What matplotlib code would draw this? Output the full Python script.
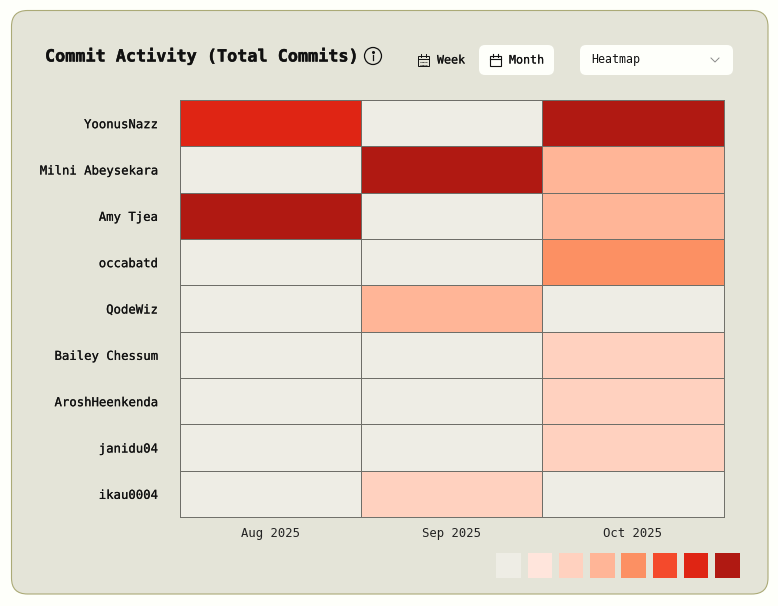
import numpy as np
import matplotlib
matplotlib.use('Agg')
import matplotlib.pyplot as plt
import matplotlib.patheffects as pe
from matplotlib.colors import ListedColormap, BoundaryNorm
from matplotlib.patches import FancyBboxPatch, Rectangle, Circle

plt.rcParams['font.family'] = ['DejaVu Sans Mono']

authors = ["YoonusNazz", "Milni Abeysekara", "Amy Tjea", "occabatd", "QodeWiz",
           "Bailey Chessum", "AroshHeenkenda", "janidu04", "ikau0004"]
months = ["Aug 2025", "Sep 2025", "Oct 2025"]

# colour level of each cell
aug = [6, 0, 7, 0, 0, 0, 0, 0, 0]
sep = [0, 7, 0, 0, 3, 0, 0, 0, 2]
oct_ = [7, 3, 3, 4, 0, 2, 2, 2, 0]

palette = ["#EEEDE5", "#FFE5DC", "#FFD1BF", "#FFB597", "#FC9063", "#F44A2C", "#DF2514", "#B01912"]
ink = "#111111"
# slightly thickened regular weight, the labels are medium in the original
medium = [pe.withStroke(linewidth=0.12, foreground=ink)]
heavy = [pe.withStroke(linewidth=0.3, foreground=ink)]

W, H = 778, 606
fig = plt.figure(figsize=(W / 100, H / 100), dpi=100, facecolor="#FEFFFA")

# background axes in pixel coords, y going down
bg = fig.add_axes([0, 0, 1, 1])
bg.set_xlim(0, W)
bg.set_ylim(H, 0)
bg.axis('off')


def rounded(x0, y0, x1, y1, r, **kw):
    bg.add_patch(FancyBboxPatch((x0 + r, y0 + r), x1 - x0 - 2 * r, y1 - y0 - 2 * r,
                                boxstyle="round,pad=%s,rounding_size=%s" % (r, r), **kw))


def calendar(x, y, w, lw=0.8):
    bg.add_patch(Rectangle((x, y), w, w - 1, fc='none', ec=ink, lw=lw))
    bg.plot([x, x + w], [y + 3, y + 3], color=ink, lw=lw)
    for dx in (2.7, w - 2.7):
        bg.plot([x + dx, x + dx], [y - 2, y + 1], color=ink, lw=lw)


rounded(11.5, 10.5, 768, 594, 16, fc="#E4E4D8", ec="#ABAA77", lw=0.8)

bg.text(45, 56, "Commit Activity (Total Commits)", fontsize=12.1, fontweight='bold',
        color=ink, ha='left', va='center', path_effects=heavy)

# info icon
bg.add_patch(Circle((373, 56), 8.5, fc='none', ec=ink, lw=0.9))
bg.plot([373, 373], [55, 60], color=ink, lw=0.9)
bg.plot([373], [52.2], 'o', color=ink, ms=1.2)

# week / month / chart type controls
rounded(479, 45, 554, 75, 6, fc="#FEFFFA", ec='none')
rounded(580, 45, 733, 75, 6, fc="#FEFFFA", ec='none')
calendar(418.5, 56, 10.5, lw=0.7)
for yy in (62, 64.5):
    bg.plot([420.5, 427], [yy, yy], color=ink, lw=0.6, ls=(0, (1, 0.6)))
calendar(490.5, 56, 10.5)
bg.text(437, 60, "Week", fontsize=8.4, color=ink, ha='left', va='center', path_effects=medium)
bg.text(509, 60, "Month", fontsize=8.4, color=ink, ha='left', va='center', path_effects=medium)
bg.text(591, 60, "Heatmap", fontsize=8.4, color=ink, ha='left', va='center')
bg.plot([711, 715, 719], [58, 62, 58], color="#8A8A8A", lw=0.7)

# heatmap
ax = fig.add_axes([180 / W, 1 - 517 / H, 543.5 / W, 417 / H])
levels = np.array([aug, sep, oct_]).T
cmap = ListedColormap(palette)
norm = BoundaryNorm(np.arange(-0.5, 8.5), cmap.N)
ax.pcolormesh(levels, cmap=cmap, norm=norm, edgecolors="#6E6E68", linewidth=0.7)
ax.invert_yaxis()
ax.set_xticks(np.arange(len(months)) + 0.5)
ax.set_xticklabels(months, fontsize=8.85, color="#222222")
ax.set_yticks(np.arange(len(authors)) + 0.5)
ax.set_yticklabels(authors, fontsize=8.85, color=ink, path_effects=medium)
ax.tick_params(length=0)
ax.tick_params(axis='x', pad=7.5)
ax.tick_params(axis='y', pad=16)
for s in ax.spines.values():
    s.set_color("#6E6E68")
    s.set_linewidth(0.7)

# legend swatches
for i, c in enumerate(palette):
    x0 = 496.5 + i * 31.25
    bg.add_patch(Rectangle((x0, 553), 24.5, 25, fc=c, ec='none'))

fig.savefig("out.png", dpi=100, facecolor=fig.get_facecolor())
